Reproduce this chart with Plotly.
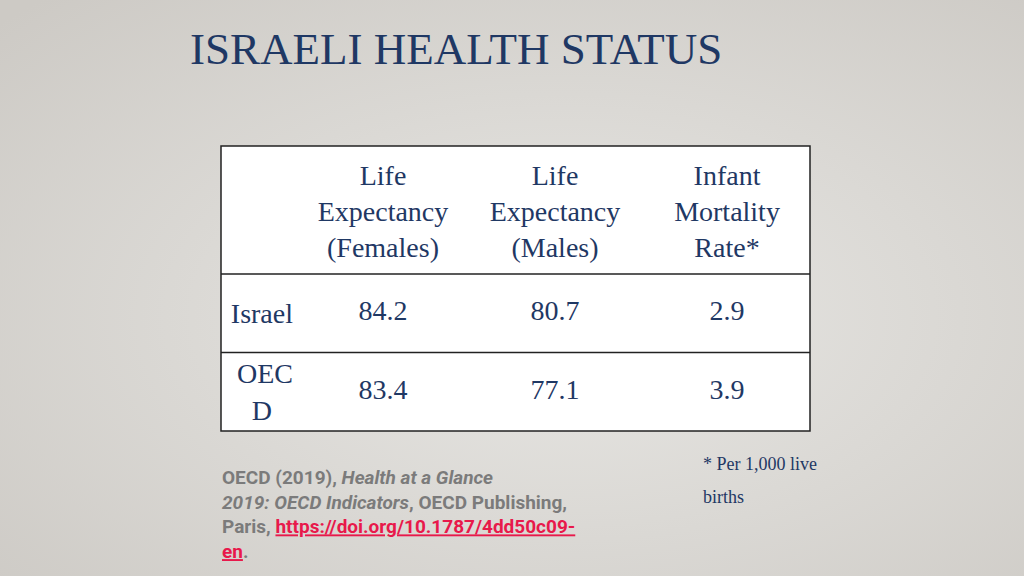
import base64
import plotly.graph_objects as go

# ---- data ----
title_text = "ISRAELI HEALTH STATUS"
columns = ["Life<br>Expectancy<br>(Females)", "Life<br>Expectancy<br>(Males)", "Infant<br>Mortality<br>Rate*"]
rows = ["Israel", "OECD"]
row_labels = ["Israel", "OEC<br>D\u00a0\u00a0\u00a0"]
israel_values = [84.2, 80.7, 2.9]
oecd_values = [83.4, 77.1, 3.9]
values = {"Israel": israel_values, "OECD": oecd_values}
note_lines = ["* Per 1,000 live", "births"]
source_text = ("<b>OECD (2019), <i>Health at a Glance</i><br>"
               "<i>2019: OECD Indicators</i>, OECD Publishing,<br>"
               "Paris, <span style='color:#e8194b'><u>https://doi.org/10.1787/4dd50c09-</u></span><br>"
               "<span style='color:#e8194b'><u>en</u></span>.</b>")

NAVY = "#1f3864"
SERIF = "Liberation Serif, Times New Roman, serif"
W, H = 1024, 576

def px_x(v):
    return v / W

def px_y(v):
    return 1 - v / H

fig = go.Figure()
for r in rows:
    fig.add_trace(go.Scatter(
        x=columns, y=[r] * len(columns), text=[str(v) for v in values[r]],
        mode="text", textposition="middle center",
        textfont=dict(family=SERIF, size=28, color=NAVY),
        hoverinfo="skip", showlegend=False,
    ))

# background gradient
svg = ("<svg xmlns='http://www.w3.org/2000/svg' width='1024' height='576' preserveAspectRatio='none'>"
       "<defs><radialGradient id='g' cx='55%' cy='55%' r='75%'>"
       "<stop offset='0' stop-color='#e8e7e4'/><stop offset='1' stop-color='#cdcac5'/>"
       "</radialGradient></defs><rect width='100%' height='100%' fill='url(#g)'/></svg>")
src = "data:image/svg+xml;base64," + base64.b64encode(svg.encode()).decode()
fig.add_layout_image(dict(source=src, xref="paper", yref="paper", x=0, y=1,
                          sizex=1, sizey=1, sizing="stretch", layer="below"))

# table body and rules
fig.add_shape(type="rect", xref="paper", yref="paper",
              x0=px_x(221), x1=px_x(810), y0=px_y(431), y1=px_y(146),
              fillcolor="white", line=dict(color="#222222", width=1.5), layer="below")
fig.add_shape(type="line", xref="paper", yref="y domain",
              x0=px_x(221), x1=px_x(810), y0=1, y1=1,
              line=dict(color="#222222", width=1.5))
fig.add_shape(type="line", xref="paper", yref="y",
              x0=px_x(221), x1=px_x(810), y0=0.5, y1=0.5,
              line=dict(color="#222222", width=1.5))

# title
fig.add_annotation(text=title_text, xref="paper", yref="paper",
                   x=px_x(188), y=px_y(49), xanchor="left", yanchor="middle",
                   showarrow=False, font=dict(family=SERIF, size=45, color=NAVY))
# note
for txt, yc in zip(note_lines, [464, 497]):
    fig.add_annotation(text=txt, xref="paper", yref="paper",
                       x=px_x(701), y=px_y(yc), xanchor="left", yanchor="middle",
                       showarrow=False, font=dict(family=SERIF, size=18, color=NAVY))
# source
fig.add_annotation(text=source_text, xref="paper", yref="paper",
                   x=px_x(220), y=px_y(464), xanchor="left", yanchor="top", align="left",
                   showarrow=False, font=dict(family="Roboto, sans-serif", size=19, color="#7b7b7b"))

fig.update_layout(
    template="none",
    width=W, height=H, margin=dict(l=0, r=0, t=0, b=0, pad=0),
    paper_bgcolor="#dcdad6", plot_bgcolor="white",
    xaxis=dict(domain=[px_x(297), px_x(813)], type="category", categoryarray=columns,
               range=[-0.5, 2.5], autorange=False,
               side="top", showgrid=False, zeroline=False, showline=False, ticks="",
               automargin=False, ticklabelstandoff=10,
               tickfont=dict(family=SERIF, size=28, color=NAVY), fixedrange=True),
    yaxis=dict(domain=[px_y(431), px_y(274)], type="category", categoryarray=rows[::-1],
               range=[-0.5, 1.5], autorange=False,
               tickvals=rows, ticktext=row_labels, automargin=False, ticklabelstandoff=3,
               showgrid=False, zeroline=False, showline=False, ticks="",
               tickfont=dict(family=SERIF, size=28, color=NAVY), fixedrange=True),
)
fig.write_html("out.html", config={"displayModeBar": False},
               post_script="document.body.style.margin='0';")
